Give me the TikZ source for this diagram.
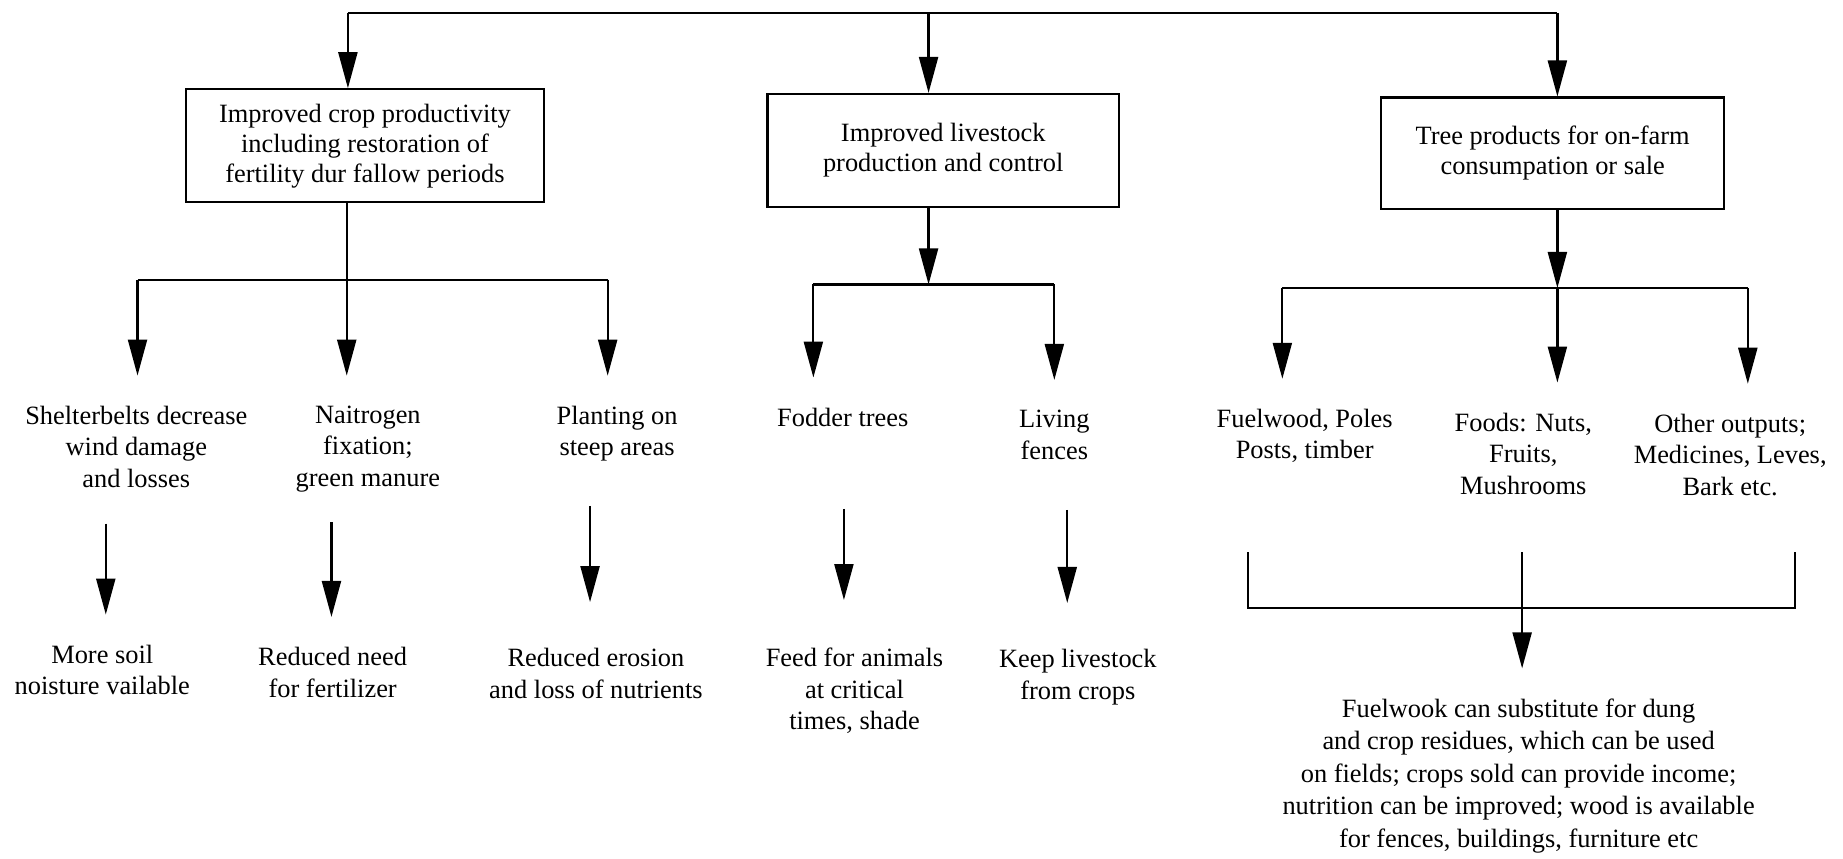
\documentclass[tikz,border=0pt]{standalone}
\usepackage{fontspec}
\setmainfont{Liberation Serif}
\usetikzlibrary{arrows.meta}
\begin{document}
\begin{tikzpicture}[x=0.5877pt,y=-0.5877pt,
  line/.style={line width=1.1pt},
  arr/.style={line width=1.1pt,-{Triangle[length=18pt,width=9.5pt]}},
  box/.style={draw,line width=1.1pt,align=center,inner sep=0pt,font=\fontsize{13.2}{15}\selectfont},
  txt/.style={align=center,inner sep=0pt,font=\fontsize{13.2}{15.7}\selectfont}]
\useasboundingbox (0,0) rectangle (1568,730);
% boxes
\node[box,minimum width=179.2pt,minimum height=56.4pt] (b1) at (310.5,124) {Improved crop productivity\\including restoration of\\fertility dur fallow periods};
\node[box,minimum width=175.7pt,minimum height=56.4pt] (b2) at (802.5,128) {Improved livestock\\production and control};
\node[box,minimum width=171.6pt,minimum height=55.8pt] (b3) at (1321,130.5) {Tree products for on-farm\\consumpation or sale};
% second row
\node[txt] (s1) at (116,380) {Shelterbelts decrease\\wind damage\\and losses};
\node[txt] (s2) at (313,382) {Naitrogen\\fixation;\\green manure};
\node[txt] (s3) at (525,369) {Planting on\\steep areas};
\node[txt] (s4) at (717,355) {Fodder trees};
\node[txt] (s5) at (897,370) {Living\\fences};
\node[txt] (s6) at (1110,371) {Fuelwood, Poles\\Posts, timber};
\node[txt] (s7) at (1296,386) {Foods: Nuts,\\Fruits,\\Mushrooms};
\node[txt] (s8) at (1472,387) {Other outputs;\\Medicines, Leves,\\Bark etc.};
% third row
\node[txt] (r1) at (87,570) {More soil\\noisture vailable};
\node[txt] (r2) at (283,572) {Reduced need\\for fertilizer};
\node[txt] (r3) at (507,573) {Reduced erosion\\and loss of nutrients};
\node[txt] (r4) at (727,588) {Feed for animals\\at critical\\times, shade};
\node[txt] (r5) at (917,576) {Keep livestock\\from crops};
\node[txt,font=\fontsize{13.2}{16.2}\selectfont] (fin) at (1292,660) {Fuelwook can substitute for dung\\and crop residues, which can be used\\on fields; crops sold can provide income;\\nutrition can be improved; wood is available\\for fences, buildings, furniture etc};
% top distribution
\coordinate (t1) at (296,11);
\coordinate (t2) at (790,11);
\coordinate (t3) at (1325,11);
\draw[line] (t1) -- (t3);
\draw[arr] (t1) -- (t1 |- b1.north);
\draw[arr] (t2) -- (t2 |- b2.north);
\draw[arr] (t3) -- (t3 |- b3.north);
% under box 1
\coordinate (j1) at (295,238);
\coordinate (j1l) at (117,238);
\coordinate (j1r) at (517,238);
\draw[line] (j1l) -- (j1r);
\draw[arr,shorten >=15pt] (b1.south -| j1) -- (j1 |- s2.north);
\draw[arr,shorten >=15pt] (j1l) -- (j1l |- s1.north);
\draw[arr,shorten >=15pt] (j1r) -- (j1r |- s3.north);
% under box 2
\coordinate (j2) at (790,242);
\coordinate (j2l) at (692,242);
\coordinate (j2r) at (897,242);
\draw[arr] (b2.south -| j2) -- (j2);
\draw[line] (j2l) -- (j2r);
\draw[arr,shorten >=15pt] (j2l) -- (j2l |- s4.north);
\draw[arr,shorten >=15pt] (j2r) -- (j2r |- s5.north);
% under box 3
\coordinate (j3) at (1325,245);
\coordinate (j3l) at (1091,245);
\coordinate (j3r) at (1487,245);
\draw[arr] (b3.south -| j3) -- (j3);
\draw[line] (j3l) -- (j3r);
\draw[arr,shorten >=15pt] (j3l) -- (j3l |- s6.north);
\draw[arr,shorten >=15pt] (j3) -- (j3 |- s7.north);
\draw[arr,shorten >=15pt] (j3r) -- (j3r |- s8.north);
% third-row arrows
\coordinate (x1) at (90,0);
\coordinate (x2) at (282,0);
\coordinate (x3) at (502,0);
\coordinate (x4) at (718,0);
\coordinate (x5) at (908,0);
\draw[arr,shorten <=18pt,shorten >=15pt] (s1.south -| x1) -- (r1.north -| x1);
\draw[arr,shorten <=15pt,shorten >=15pt] (s2.south -| x2) -- (r2.north -| x2);
\draw[arr,shorten <=22pt,shorten >=23pt] (s3.south -| x3) -- (r3.north -| x3);
\draw[arr,shorten <=41pt,shorten >=24pt] (s4.south -| x4) -- (r4.north -| x4);
\draw[arr,shorten <=25pt,shorten >=23pt] (s5.south -| x5) -- (r5.north -| x5);
% bracket to final text
\coordinate (k1) at (1062,470);
\coordinate (k0) at (1295,470);
\coordinate (k2) at (1527,470);
\coordinate (kb) at (1295,517);
\draw[line] (k1) -- (k1 |- kb) -- (k2 |- kb) -- (k2);
\draw[arr,shorten >=15pt] (k0) -- (k0 |- fin.north);
\end{tikzpicture}
\end{document}
